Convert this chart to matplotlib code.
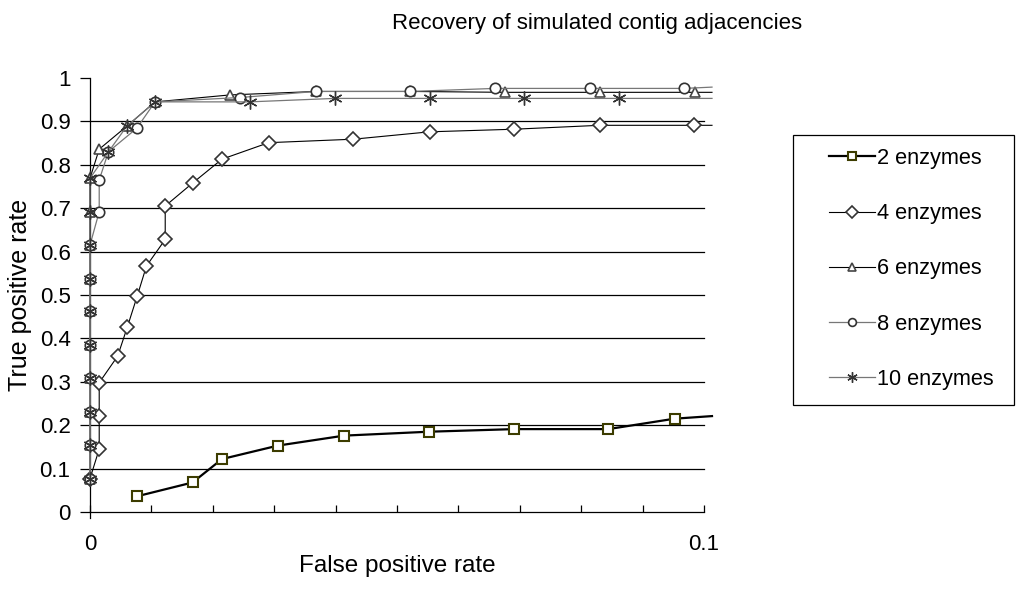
import matplotlib
matplotlib.use("Agg")
import matplotlib.pyplot as plt
from matplotlib.lines import Line2D
from matplotlib.patches import Rectangle

plt.rcParams['font.family'] = ['Liberation Sans', 'DejaVu Sans']

title = "Recovery of simulated contig adjacencies"
xlabel = "False positive rate"
ylabel = "True positive rate"

x_end = 0.1013  # right edge of plot area, where lines are cut

fpr_2 = [0.0076, 0.0167, 0.0215, 0.0306, 0.0414, 0.0552, 0.0691, 0.0844, 0.0952, x_end]
tpr_2 = [0.036, 0.068, 0.122, 0.153, 0.176, 0.185, 0.191, 0.191, 0.215, 0.221]

fpr_4 = [0.0, 0.0015, 0.0015, 0.0015, 0.0045, 0.0061, 0.0077, 0.0092, 0.01225, 0.01225,
         0.0168, 0.0215, 0.0291, 0.0429, 0.0553, 0.0691, 0.0830, 0.0984, x_end]
tpr_4 = [0.077, 0.145, 0.221, 0.298, 0.359, 0.427, 0.498, 0.567, 0.628, 0.705,
         0.759, 0.813, 0.851, 0.859, 0.876, 0.882, 0.891, 0.891, 0.891]

fpr_6 = [0, 0, 0, 0, 0, 0, 0, 0, 0, 0, 0.0015, 0.0060, 0.0106, 0.0228, 0.0368, 0.0521,
         0.0676, 0.0831, 0.0985, x_end]
tpr_6 = [0.077, 0.154, 0.231, 0.308, 0.385, 0.462, 0.538, 0.615, 0.692, 0.769, 0.836, 0.889,
         0.945, 0.961, 0.969, 0.969, 0.967, 0.967, 0.967, 0.967]

fpr_8 = [0, 0, 0, 0, 0, 0, 0, 0, 0.0015, 0.0015, 0.0030, 0.0076, 0.0106, 0.0244, 0.0368,
         0.0521, 0.0660, 0.0814, 0.0968, x_end]
tpr_8 = [0.077, 0.154, 0.231, 0.308, 0.385, 0.462, 0.538, 0.615, 0.692, 0.765, 0.830, 0.884,
         0.945, 0.955, 0.969, 0.969, 0.976, 0.976, 0.976, 0.979]

fpr_10 = [0, 0, 0, 0, 0, 0, 0, 0, 0, 0, 0.0030, 0.0060, 0.0106, 0.0260, 0.0399, 0.0553,
          0.0707, 0.0861, x_end]
tpr_10 = [0.077, 0.154, 0.231, 0.308, 0.385, 0.462, 0.538, 0.615, 0.692, 0.769, 0.830, 0.889,
          0.945, 0.945, 0.953, 0.953, 0.953, 0.953, 0.953]

labels = ["2 enzymes", "4 enzymes", "6 enzymes", "8 enzymes", "10 enzymes"]
yticks = [0, 0.1, 0.2, 0.3, 0.4, 0.5, 0.6, 0.7, 0.8, 0.9, 1.0]
ytick_labels = ["0", "0.1", "0.2", "0.3", "0.4", "0.5", "0.6", "0.7", "0.8", "0.9", "1"]
xticks = [0, 0.01, 0.02, 0.03, 0.04, 0.05, 0.06, 0.07, 0.08, 0.09, 0.1]
xtick_labels = ["0", "", "", "", "", "", "", "", "", "", "0.1"]

W, H = 1019, 595
fig = plt.figure(figsize=(W / 100, H / 100), dpi=100)
ax = fig.add_axes([90 / W, (H - 512) / H, 622 / W, 434 / H])
ax.set_xlim(0, x_end)
ax.set_ylim(0, 1)

# gridlines
for y in yticks[1:-1]:
    ax.plot([0, 0.1], [y, y], color='black', lw=0.9, zorder=1)

styles = [
    dict(x=fpr_2, y=tpr_2, color='black', lw=1.6, marker='s', ms=7, mec='#3c3c00', mew=1.5),
    dict(x=fpr_4, y=tpr_4, color='black', lw=0.8, marker='D', ms=7.5, mec='#333333', mew=1.2),
    dict(x=fpr_6, y=tpr_6, color='black', lw=0.8, marker='^', ms=7.5, mec='#444444', mew=1.2),
    dict(x=fpr_8, y=tpr_8, color='#777777', lw=0.9, marker='o', ms=7.5, mec='#333333', mew=1.2),
    dict(x=fpr_10, y=tpr_10, color='#777777', lw=0.9, marker=(6, 2, 0), ms=10, mec='#333333', mew=1.0),
]

handles = []
for st, lab in zip(styles, labels):
    n = len(st['x'])
    ax.plot(st['x'], st['y'], color=st['color'], lw=st['lw'], marker=st['marker'],
            ms=st['ms'], mfc='white', mec=st['mec'], mew=st['mew'],
            markevery=list(range(n - 1)), clip_on=False, zorder=3)
    handles.append(Line2D([], [], color=st['color'], lw=st['lw'], marker=st['marker'],
                          ms=st['ms'] * 0.75, mfc='white', mec=st['mec'], mew=st['mew']))

for s in ['top', 'right']:
    ax.spines[s].set_visible(False)
ax.spines['bottom'].set_bounds(0, 0.1)
ax.spines['left'].set_bounds(-0.014, 1)
ax.spines['left'].set_linewidth(0.9)
ax.spines['bottom'].set_linewidth(0.9)

ax.set_yticks(yticks)
ax.set_yticklabels(ytick_labels, fontsize=16)
ax.set_xticks(xticks)
ax.set_xticklabels(xtick_labels, fontsize=16)
ax.tick_params(axis='y', direction='out', length=7, width=0.9, pad=7)
ax.tick_params(axis='x', direction='in', length=5, width=0.9, pad=16)

fig.text(397 / W, 1 - 566 / H, xlabel, ha='center', va='center', fontsize=17.5)
fig.text(20 / W, 1 - 295 / H, ylabel, ha='center', va='center', rotation=90, fontsize=18)
fig.text(597 / W, 1 - 23 / H, title, ha='center', va='center', fontsize=16)

# legend frame
fig.patches.append(Rectangle((793 / W, 1 - 405 / H), (1014 - 793) / W, (405 - 135) / H,
                             transform=fig.transFigure, fill=False, edgecolor='black',
                             lw=0.9))
leg = fig.legend(handles, labels, loc='upper left',
                 bbox_to_anchor=(829 / W, 1 - 148 / H), bbox_transform=fig.transFigure,
                 fontsize=15.7, frameon=False,
                 borderpad=0, labelspacing=1.57, handlelength=2.1, handletextpad=0.1,
                 borderaxespad=0)

fig.savefig("out.png", dpi=100)
